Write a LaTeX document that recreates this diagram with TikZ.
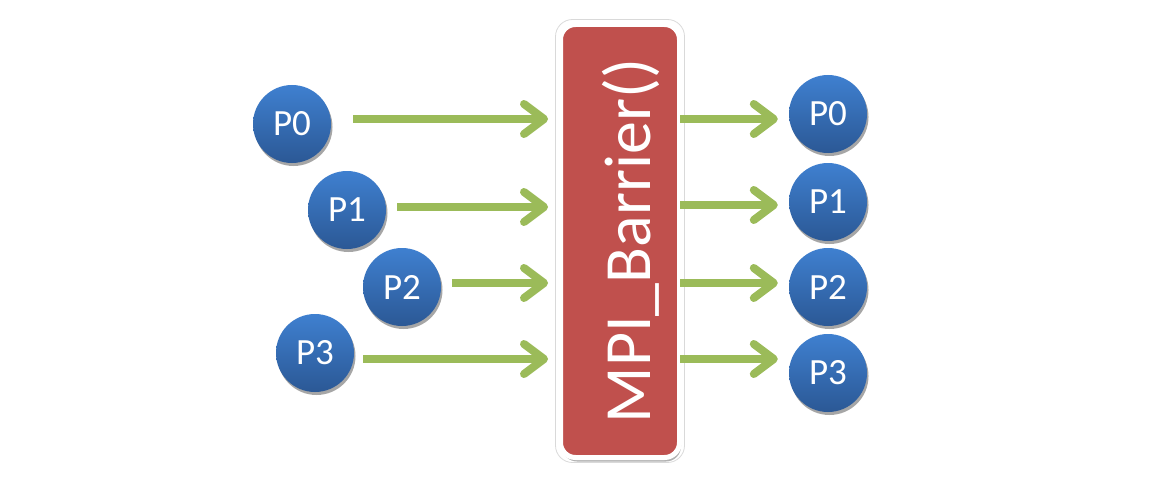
\documentclass[tikz,border=0pt]{standalone}
\usepackage{fontspec}
\setmainfont{Carlito}
\usetikzlibrary{arrows.meta,shadows,calc}
\definecolor{arrgreen}{HTML}{9BBB59}
\definecolor{barred}{HTML}{C0504D}
\definecolor{ptop}{HTML}{3F80D0}
\definecolor{pbot}{HTML}{2B5895}
\tikzset{
  proc/.style={circle,minimum size=78pt,inner sep=0pt,top color=ptop,bottom color=pbot,
    text=white,font=\fontsize{37}{37}\selectfont,
    drop shadow={shadow xshift=1.5pt,shadow yshift=-3pt,fill=black,opacity=0.35}},
  arr/.style={draw=arrgreen,line width=8pt,-{Straight Barb[length=20pt,width=30pt,line cap=round,line join=round]}},
  barbox/.style={draw=white,line width=5pt,fill=barred,rounded corners=15pt,
    minimum width=119pt,minimum height=433pt,inner sep=0pt,
    drop shadow={shadow xshift=1.5pt,shadow yshift=-4pt,fill=black,opacity=0.3}},
  barrim/.style={draw=black!15,line width=0.8pt,rounded corners=17pt},
  bartext/.style={text=white,rotate=90,anchor=base,inner sep=0pt,font=\fontsize{66}{66}\selectfont}
}
\begin{document}
\begin{tikzpicture}[x=1pt,y=-1pt]
\useasboundingbox (0,0) rectangle (1169,484);
\node[barbox] (bar) at (620,241) {};
\draw[barrim] ([shift={(-2.5pt,2.5pt)}]bar.north west) rectangle ([shift={(2.5pt,-2.5pt)}]bar.south east);
\node[bartext] (bart) at (650,241) {MPI\_Barrier()};
% left processes
\node[proc] (l0) at (292,124) {P0};
\node[proc] (l1) at (347,210) {P1};
\node[proc] (l2) at (402,287) {P2};
\node[proc] (l3) at (315,353) {P3};
% right processes
\node[proc] (r0) at (828,114) {P0};
\node[proc] (r1) at (828,202) {P1};
\node[proc] (r2) at (828,287) {P2};
\node[proc] (r3) at (828,373) {P3};
% arrow start points
\coordinate (a0) at (353,119);
\coordinate (a1) at (397,207);
\coordinate (a2) at (452,283);
\coordinate (a3) at (363,359);
\draw[arr] (a0) -- ([xshift=-10pt]a0 -| bar.west);
\draw[arr] (a1) -- ([xshift=-10pt]a1 -| bar.west);
\draw[arr] (a2) -- ([xshift=-10pt]a2 -| bar.west);
\draw[arr] (a3) -- ([xshift=-10pt]a3 -| bar.west);
\coordinate (b0) at (680,119);
\coordinate (b1) at (680,205);
\coordinate (b2) at (680,283);
\coordinate (b3) at (680,359);
\draw[arr] (b0) -- ([xshift=-11pt]b0 -| r0.west);
\draw[arr] (b1) -- ([xshift=-11pt]b1 -| r1.west);
\draw[arr] (b2) -- ([xshift=-11pt]b2 -| r2.west);
\draw[arr] (b3) -- ([xshift=-11pt]b3 -| r3.west);
\end{tikzpicture}
\end{document}
